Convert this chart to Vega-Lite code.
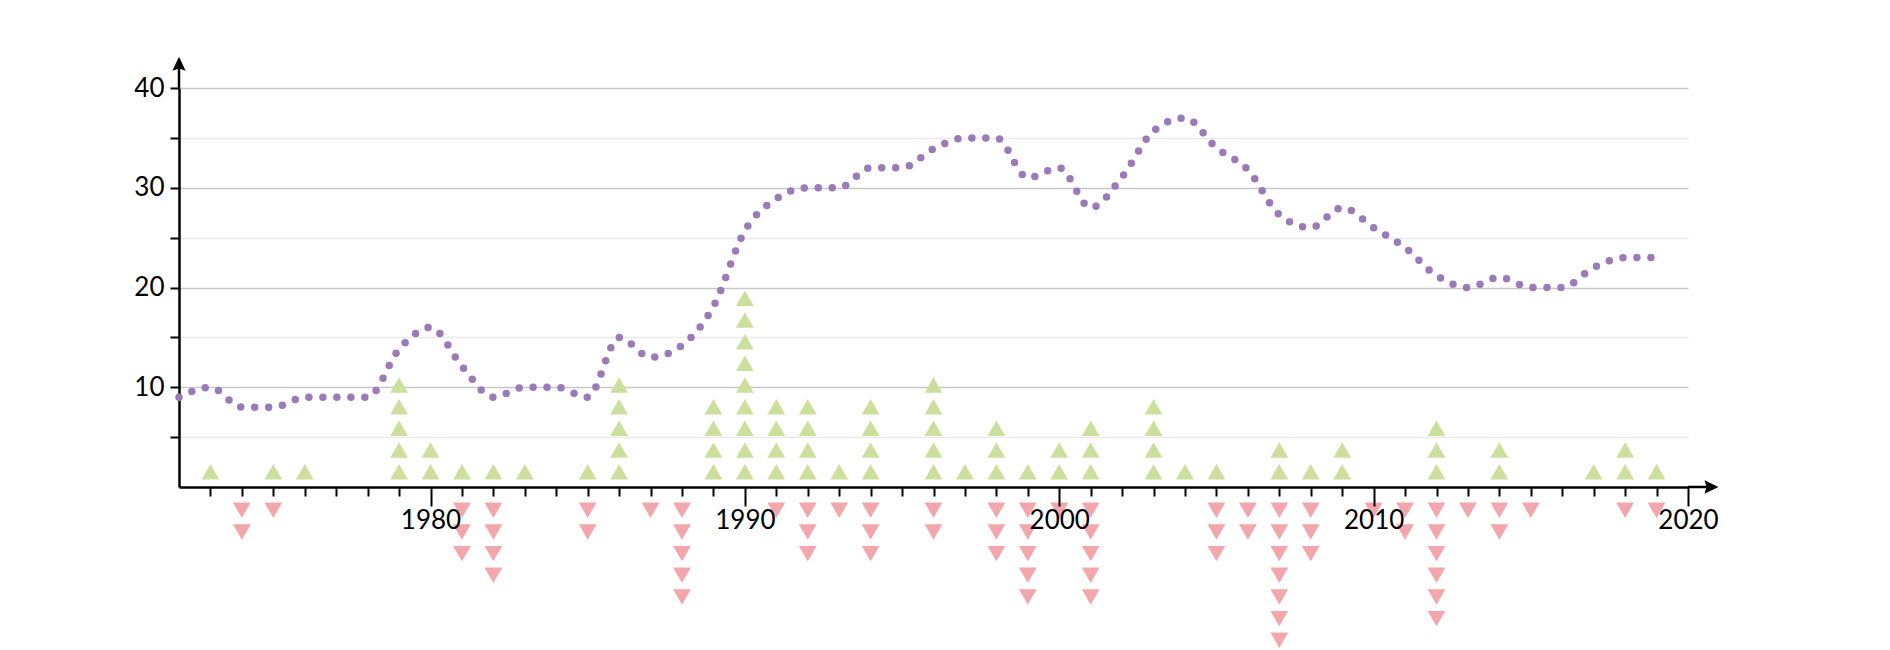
{
  "$schema": "https://vega.github.io/schema/vega-lite/v6.json",
  "autosize": {"type": "none"},
  "padding": {"left": 179, "top": 88, "right": 202, "bottom": 163},
  "width": 1509,
  "height": 399,
  "background": "white",
  "config": {"view": {"stroke": null}, "font": "Lato"},
  "datasets": {
    "series": [
      {"year": 1972, "value": 9}, {"year": 1973, "value": 10}, {"year": 1974, "value": 8}, {"year": 1975, "value": 8},
      {"year": 1976, "value": 9}, {"year": 1977, "value": 9}, {"year": 1978, "value": 9}, {"year": 1979, "value": 13.8},
      {"year": 1980, "value": 16}, {"year": 1981, "value": 12.1}, {"year": 1982, "value": 9}, {"year": 1983, "value": 10},
      {"year": 1984, "value": 10}, {"year": 1985, "value": 9}, {"year": 1986, "value": 15}, {"year": 1987, "value": 13},
      {"year": 1988, "value": 14.2}, {"year": 1989, "value": 18.1}, {"year": 1990, "value": 25.7}, {"year": 1991, "value": 28.9},
      {"year": 1992, "value": 30}, {"year": 1993, "value": 30}, {"year": 1994, "value": 32}, {"year": 1995, "value": 32},
      {"year": 1996, "value": 33.9}, {"year": 1997, "value": 35}, {"year": 1998, "value": 35}, {"year": 1999, "value": 31},
      {"year": 2000, "value": 32}, {"year": 2001, "value": 28}, {"year": 2002, "value": 31.1}, {"year": 2003, "value": 35.7},
      {"year": 2004, "value": 37}, {"year": 2005, "value": 34}, {"year": 2006, "value": 31.8}, {"year": 2007, "value": 27.3},
      {"year": 2008, "value": 26}, {"year": 2009, "value": 28}, {"year": 2010, "value": 26}, {"year": 2011, "value": 24},
      {"year": 2012, "value": 21.2}, {"year": 2013, "value": 20}, {"year": 2014, "value": 21}, {"year": 2015, "value": 20},
      {"year": 2016, "value": 20}, {"year": 2017, "value": 22}, {"year": 2018, "value": 23}, {"year": 2019, "value": 23}
    ],
    "ups": [
      {"year": 1973, "k": 1}, {"year": 1975, "k": 1}, {"year": 1976, "k": 1},
      {"year": 1979, "k": 1}, {"year": 1979, "k": 2}, {"year": 1979, "k": 3}, {"year": 1979, "k": 4}, {"year": 1979, "k": 5},
      {"year": 1980, "k": 1}, {"year": 1980, "k": 2}, {"year": 1981, "k": 1}, {"year": 1982, "k": 1}, {"year": 1983, "k": 1},
      {"year": 1985, "k": 1},
      {"year": 1986, "k": 1}, {"year": 1986, "k": 2}, {"year": 1986, "k": 3}, {"year": 1986, "k": 4}, {"year": 1986, "k": 5},
      {"year": 1989, "k": 1}, {"year": 1989, "k": 2}, {"year": 1989, "k": 3}, {"year": 1989, "k": 4},
      {"year": 1990, "k": 1}, {"year": 1990, "k": 2}, {"year": 1990, "k": 3}, {"year": 1990, "k": 4}, {"year": 1990, "k": 5},
      {"year": 1990, "k": 6}, {"year": 1990, "k": 7}, {"year": 1990, "k": 8}, {"year": 1990, "k": 9},
      {"year": 1991, "k": 1}, {"year": 1991, "k": 2}, {"year": 1991, "k": 3}, {"year": 1991, "k": 4},
      {"year": 1992, "k": 1}, {"year": 1992, "k": 2}, {"year": 1992, "k": 3}, {"year": 1992, "k": 4},
      {"year": 1993, "k": 1},
      {"year": 1994, "k": 1}, {"year": 1994, "k": 2}, {"year": 1994, "k": 3}, {"year": 1994, "k": 4},
      {"year": 1996, "k": 1}, {"year": 1996, "k": 2}, {"year": 1996, "k": 3}, {"year": 1996, "k": 4}, {"year": 1996, "k": 5},
      {"year": 1997, "k": 1},
      {"year": 1998, "k": 1}, {"year": 1998, "k": 2}, {"year": 1998, "k": 3},
      {"year": 1999, "k": 1},
      {"year": 2000, "k": 1}, {"year": 2000, "k": 2},
      {"year": 2001, "k": 1}, {"year": 2001, "k": 2}, {"year": 2001, "k": 3},
      {"year": 2003, "k": 1}, {"year": 2003, "k": 2}, {"year": 2003, "k": 3}, {"year": 2003, "k": 4},
      {"year": 2004, "k": 1}, {"year": 2005, "k": 1},
      {"year": 2007, "k": 1}, {"year": 2007, "k": 2},
      {"year": 2008, "k": 1},
      {"year": 2009, "k": 1}, {"year": 2009, "k": 2},
      {"year": 2012, "k": 1}, {"year": 2012, "k": 2}, {"year": 2012, "k": 3},
      {"year": 2014, "k": 1}, {"year": 2014, "k": 2},
      {"year": 2017, "k": 1},
      {"year": 2018, "k": 1}, {"year": 2018, "k": 2},
      {"year": 2019, "k": 1}
    ],
    "downs": [
      {"year": 1974, "k": 1}, {"year": 1974, "k": 2}, {"year": 1975, "k": 1},
      {"year": 1981, "k": 1}, {"year": 1981, "k": 2}, {"year": 1981, "k": 3},
      {"year": 1982, "k": 1}, {"year": 1982, "k": 2}, {"year": 1982, "k": 3}, {"year": 1982, "k": 4},
      {"year": 1985, "k": 1}, {"year": 1985, "k": 2},
      {"year": 1987, "k": 1},
      {"year": 1988, "k": 1}, {"year": 1988, "k": 2}, {"year": 1988, "k": 3}, {"year": 1988, "k": 4}, {"year": 1988, "k": 5},
      {"year": 1991, "k": 1},
      {"year": 1992, "k": 1}, {"year": 1992, "k": 2}, {"year": 1992, "k": 3},
      {"year": 1993, "k": 1},
      {"year": 1994, "k": 1}, {"year": 1994, "k": 2}, {"year": 1994, "k": 3},
      {"year": 1996, "k": 1}, {"year": 1996, "k": 2},
      {"year": 1998, "k": 1}, {"year": 1998, "k": 2}, {"year": 1998, "k": 3},
      {"year": 1999, "k": 1}, {"year": 1999, "k": 2}, {"year": 1999, "k": 3}, {"year": 1999, "k": 4}, {"year": 1999, "k": 5},
      {"year": 2000, "k": 1},
      {"year": 2001, "k": 1}, {"year": 2001, "k": 2}, {"year": 2001, "k": 3}, {"year": 2001, "k": 4}, {"year": 2001, "k": 5},
      {"year": 2005, "k": 1}, {"year": 2005, "k": 2}, {"year": 2005, "k": 3},
      {"year": 2006, "k": 1}, {"year": 2006, "k": 2},
      {"year": 2007, "k": 1}, {"year": 2007, "k": 2}, {"year": 2007, "k": 3}, {"year": 2007, "k": 4}, {"year": 2007, "k": 5},
      {"year": 2007, "k": 6}, {"year": 2007, "k": 7},
      {"year": 2008, "k": 1}, {"year": 2008, "k": 2}, {"year": 2008, "k": 3},
      {"year": 2010, "k": 1},
      {"year": 2011, "k": 1}, {"year": 2011, "k": 2},
      {"year": 2012, "k": 1}, {"year": 2012, "k": 2}, {"year": 2012, "k": 3}, {"year": 2012, "k": 4}, {"year": 2012, "k": 5}, {"year": 2012, "k": 6},
      {"year": 2013, "k": 1},
      {"year": 2014, "k": 1}, {"year": 2014, "k": 2},
      {"year": 2015, "k": 1},
      {"year": 2018, "k": 1},
      {"year": 2019, "k": 1}
    ]
  },
  "resolve": {"scale": {"y": "independent"}, "axis": {"x": "independent"}},
  "layer": [
    {
      "data": {"name": "series"},
      "mark": {"type": "line", "interpolate": "monotone", "color": "#9a7bb8", "strokeWidth": 7.5, "strokeCap": "round", "strokeDash": [0, 14]},
      "encoding": {
        "x": {
          "field": "year", "type": "quantitative",
          "scale": {"domain": [1972, 2020], "nice": false, "zero": false},
          "axis": {
            "title": null, "grid": false, "zindex": 1, "orient": "bottom",
            "values": [1973,1974,1975,1976,1977,1978,1979,1981,1982,1983,1984,1985,1986,1987,1988,1989,1991,1992,1993,1994,1995,1996,1997,1998,1999,2001,2002,2003,2004,2005,2006,2007,2008,2009,2011,2012,2013,2014,2015,2016,2017,2018,2019],
            "labels": false,
            "tickSize": 9, "tickWidth": 2, "tickColor": "#000",
            "domainColor": "#000", "domainWidth": 2.5
          }
        },
        "y": {
          "field": "value", "type": "quantitative",
          "scale": {"domain": [0, 40], "nice": false},
          "axis": {
            "title": null, "grid": true,
            "values": [5, 10, 15, 20, 25, 30, 35, 40],
            "labelExpr": "datum.value % 10 === 0 ? toString(datum.value) : ''",
            "gridColor": {"condition": {"test": "datum.value % 10 === 0", "value": "#c8c8c8"}, "value": "#e9e9e9"},
            "gridWidth": 1.3,
            "tickSize": 9, "tickWidth": 2, "tickColor": "#000",
            "domainColor": "#000", "domainWidth": 2.5,
            "labelFont": "Lato", "labelFontSize": 26, "labelColor": "#000", "labelPadding": 6
          }
        }
      }
    },
    {
      "data": {"name": "ups"},
      "mark": {"type": "point", "shape": "triangle-up", "filled": true, "size": 320, "color": "#cddf9d", "opacity": 1},
      "encoding": {
        "x": {
          "field": "year", "type": "quantitative", "scale": {"domain": [1972, 2020]},
          "axis": {
            "title": null, "grid": false, "zindex": 1, "orient": "bottom", "domain": false,
            "values": [1980, 1990, 2000, 2010, 2020], "format": "d",
            "labelOverlap": false, "labelBound": false, "labelFlush": false,
            "tickSize": 19, "tickWidth": 2, "tickColor": "#000",
            "labelFont": "Lato", "labelFontSize": 26, "labelColor": "#000", "labelPadding": 1
          }
        },
        "y": {"field": "k", "type": "quantitative", "scale": {"domain": [0.294, 18.7], "nice": false, "zero": false}, "axis": null}
      }
    },
    {
      "data": {"name": "downs"},
      "mark": {"type": "point", "shape": "triangle-down", "filled": true, "size": 320, "color": "#f3a7ad", "opacity": 1},
      "encoding": {
        "x": {"field": "year", "type": "quantitative", "scale": {"domain": [1972, 2020]}, "axis": null},
        "y": {"field": "k", "type": "quantitative", "scale": {"domain": [-18.49, -0.075], "nice": false, "zero": false, "reverse": true}, "axis": null}
      }
    },
    {
      "data": {"values": [{}]},
      "mark": {"type": "rule", "color": "#000", "strokeWidth": 2.5},
      "encoding": {
        "x": {"datum": 2020, "scale": {"domain": [1972, 2020]}, "axis": null},
        "x2": {"datum": 2020.8},
        "y": {"datum": 0, "scale": {"domain": [0, 40]}, "axis": null}
      }
    },
    {
      "data": {"values": [{}]},
      "mark": {"type": "rule", "color": "#000", "strokeWidth": 2.5},
      "encoding": {
        "x": {"datum": 1972, "scale": {"domain": [1972, 2020]}, "axis": null},
        "y": {"datum": 40, "scale": {"domain": [0, 40]}, "axis": null},
        "y2": {"datum": 42.6}
      }
    },
    {
      "data": {"values": [{}]},
      "mark": {"type": "point", "shape": "M0,0L-2,-0.95L-1.7,0L-2,0.95Z", "filled": true, "size": 196, "color": "#000", "opacity": 1},
      "encoding": {
        "x": {"datum": 2020.97, "scale": {"domain": [1972, 2020]}, "axis": null},
        "y": {"datum": 0, "scale": {"domain": [0, 40]}, "axis": null}
      }
    },
    {
      "data": {"values": [{}]},
      "mark": {"type": "point", "shape": "M0,0L-0.95,2L0,1.7L0.95,2Z", "filled": true, "size": 196, "color": "#000", "opacity": 1},
      "encoding": {
        "x": {"datum": 1972, "scale": {"domain": [1972, 2020]}, "axis": null},
        "y": {"datum": 43.14, "scale": {"domain": [0, 40]}, "axis": null}
      }
    }
  ]
}
